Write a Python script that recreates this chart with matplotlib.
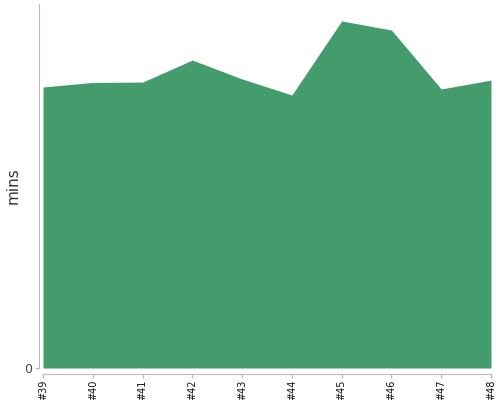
import numpy as np
import matplotlib
matplotlib.use("Agg")
import matplotlib.pyplot as plt

builds = ["#39", "#40", "#41", "#42", "#43", "#44", "#45", "#46", "#47", "#48"]
mins = [15.44, 15.69, 15.71, 16.92, 15.88, 15.00, 19.07, 18.57, 15.33, 15.82]
y_top = 20.0

fig = plt.figure(figsize=(5, 4), dpi=100)
ax = fig.add_axes([43 / 500, 32 / 400, 448 / 500, 364 / 400])

x = np.arange(len(builds))
ax.fill_between(x, 0, mins, color="#449c6c", linewidth=0)

ax.set_xlim(0, len(builds) - 1)
ax.set_ylim(0, y_top)

ax.set_xticks(x)
ax.set_xticklabels(builds)
ax.set_yticks([0])
ax.set_yticklabels(["0"])
ax.tick_params(axis="both", colors="#bbbbbb", length=3, width=1)
ax.tick_params(axis="x", labelrotation=90, labelsize=7, labelcolor="#111111", pad=1.5)
ax.tick_params(axis="y", labelsize=9, labelcolor="#444444", pad=2)

for s in ["top", "right"]:
    ax.spines[s].set_visible(False)
ax.spines["left"].set_position(("outward", 3))
ax.spines["bottom"].set_position(("outward", 4))
ax.spines["left"].set_color("#bbbbbb")
ax.spines["bottom"].set_color("#bbbbbb")
ax.spines["left"].set_bounds(0, y_top)

fig.text(13 / 500, 1 - 186 / 400, "mins", rotation=90, fontsize=11,
         color="#333333", ha="center", va="center")

fig.savefig("out.png", dpi=100)
